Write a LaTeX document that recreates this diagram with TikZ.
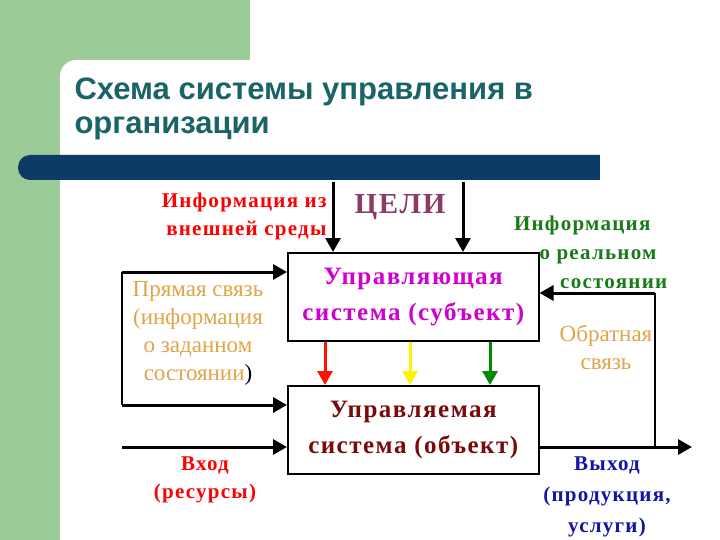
\documentclass[tikz,border=0pt]{standalone}
\usepackage{fontspec}
\setmainfont{Liberation Serif}
\newfontfamily\titlefont{Liberation Sans}
\newfontfamily\spacedfont[LetterSpace=6]{Liberation Serif}
\usetikzlibrary{arrows.meta}
\definecolor{bggreen}{HTML}{9BCB97}
\definecolor{bar}{HTML}{0D3A66}
\definecolor{ttl}{HTML}{1A6468}
\definecolor{tan}{HTML}{E0A548}
\definecolor{gre}{HTML}{1A7A1A}
\definecolor{purp}{HTML}{8E3A66}
\definecolor{mag}{HTML}{D000D0}
\definecolor{dred}{HTML}{7A0A0A}
\definecolor{blu}{HTML}{1414A8}
\tikzset{x=1pt,y=-1pt,
 box/.style={draw,line width=1.5pt,minimum width=251pt,minimum height=88pt,anchor=north west,align=center,font=\spacedfont\bfseries\fontsize{25}{36}\selectfont},
 arr/.style={line width=3pt,-{Triangle[length=14pt,width=15pt]}},
 ln/.style={line width=1.5pt},
 lbl/.style={align=center,font=\spacedfont\bfseries\fontsize{21}{28}\selectfont},
 lblr/.style={align=center,font=\fontsize{23}{28}\selectfont,text=tan}}
\begin{document}
\begin{tikzpicture}
\useasboundingbox (0,0) rectangle (720,540);
\fill[bggreen] (0,0) rectangle (250,75);
\fill[bggreen] (0,0) rectangle (60,540);
\fill[white,rounded corners=16pt] (60,60) rectangle (740,560);
\fill[bar,rounded corners=12pt] (18,155) rectangle (620,180);
\fill[white] (600,150) rectangle (720,185);
\node[anchor=north west,align=left,text=ttl,font=\titlefont\bfseries\fontsize{31}{34}\selectfont] (title) at (71,74) {Схема системы управления в\\организации};
\node[box,text=mag] (top) at (287,252) {Управляющая\\система (субъект)};
\node[box,text=dred] (bot) at (287,385) {Управляемая\\система (объект)};
\node[lbl,text=red,align=right,anchor=east] (ext) at (330,216) {Информация из\\внешней среды};
\node[font=\spacedfont\bfseries\fontsize{29}{30}\selectfont,text=purp] (goal) at (400,207) {ЦЕЛИ};
\node[lbl,text=gre,align=center,font=\spacedfont\bfseries\fontsize{21}{29}\selectfont] (real) at (598,252) {\hspace*{-1.5em}Информация\\о реальном\\\hspace*{1.5em}состоянии};
\node[lblr] (direct) at (198,333) {Прямая связь\\(информация\\о заданном\\состоянии\textcolor{black}{)}};
\node[lblr] (fb) at (606,347) {Обратная\\связь};
\node[lbl,text=red] (inp) at (205,480) {Вход\\(ресурсы)};
\node[lbl,text=blu,font=\spacedfont\bfseries\fontsize{21}{31}\selectfont] (outp) at (607,497) {Выход\\(продукция,\\услуги)};
\coordinate (g1) at (333,182);
\coordinate (g2) at (463,182);
\draw[arr] (g1) -- (g1 |- top.north);
\draw[arr] (g2) -- (g2 |- top.north);
\coordinate (l1) at (122,272);
\coordinate (l2) at (122,405);
\coordinate (l3) at (122,447);
\draw[ln] (l1) -- (l2);
\draw[arr] (l1) -- (l1 -| top.west);
\draw[arr] (l2) -- (l2 -| bot.west);
\draw[arr] (l3) -- (l3 -| bot.west);
\coordinate (o1) at (692,447);
\coordinate (r1) at (655,447);
\coordinate (r2) at (655,293);
\draw[arr] (bot.east |- o1) -- (o1);
\draw[ln] (r1) -- (r2);
\draw[arr] (r2) -- (r2 -| top.east);
\coordinate (c1) at (325,342);
\coordinate (c2) at (410,342);
\coordinate (c3) at (490,342);
\draw[arr,red!85!orange] (c1) -- (c1 |- bot.north);
\draw[arr,yellow] (c2) -- (c2 |- bot.north);
\draw[arr,green!55!black] (c3) -- (c3 |- bot.north);
\end{tikzpicture}
\end{document}
